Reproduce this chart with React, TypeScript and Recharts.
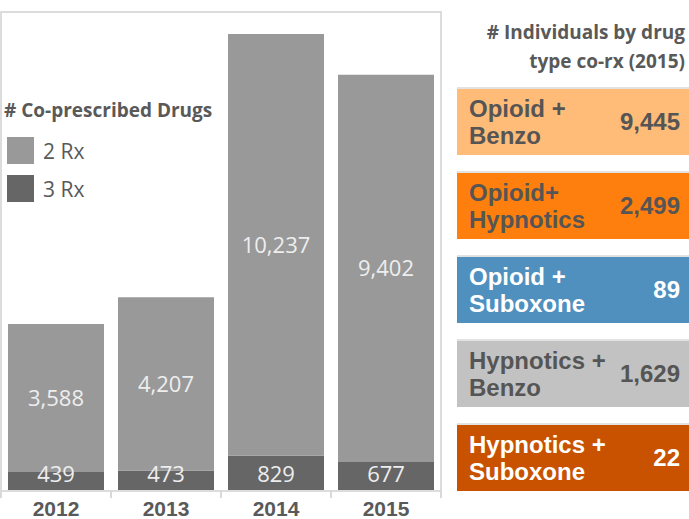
import { BarChart, Bar, XAxis, YAxis, LabelList } from 'recharts';

const years = ['2012', '2013', '2014', '2015'];
const rx2 = [3588, 4207, 10237, 9402];
const rx3 = [439, 473, 829, 677];

const comboLabels = [
  ['Opioid +', 'Benzo'],
  ['Opioid+', 'Hypnotics'],
  ['Opioid +', 'Suboxone'],
  ['Hypnotics +', 'Benzo'],
  ['Hypnotics +', 'Suboxone'],
];
const comboCounts = [9445, 2499, 89, 1629, 22];
const comboColors = ['#FFBB78', '#FF7F0E', '#4F90BF', '#C2C2C2', '#C85200'];
const comboText = ['#555555', '#555555', '#FFFFFF', '#555555', '#FFFFFF'];

const chartData = years.map((year, i) => ({ year, rx2: rx2[i], rx3: rx3[i] }));

const CHART_W = 442;
const PLOT_W = 440;
const half = PLOT_W / years.length / 2;

const fmt = (v: number) => v.toLocaleString('en-US');

function YearTick(props: any) {
  const { x, y, payload, index } = props;
  return (
    <g>
      <line x1={x - half} x2={x - half} y1={y} y2={y + 8} stroke="#d9d9d9" strokeWidth={2} />
      {index === years.length - 1 && (
        <line x1={x + half} x2={x + half} y1={y} y2={y + 8} stroke="#d9d9d9" strokeWidth={2} />
      )}
      <text
        x={x}
        y={y + 26}
        textAnchor="middle"
        fill="#595959"
        fontFamily="'Liberation Sans', Arial, sans-serif"
        fontWeight="bold"
        fontSize={21}
      >
        {payload.value}
      </text>
    </g>
  );
}

export default function App() {
  return (
    <div
      style={{
        position: 'absolute',
        left: 0,
        top: 0,
        width: 689,
        height: 519,
        background: '#fff',
        overflow: 'hidden',
      }}
    >
      <div
        style={{
          position: 'absolute',
          left: 0,
          top: 11,
          width: 438,
          height: 477,
          border: '2px solid #dcdcdc',
        }}
      />
      <div style={{ position: 'absolute', left: 0, top: 0 }}>
        <BarChart
          width={CHART_W}
          height={519}
          data={chartData}
          margin={{ top: 12, right: 1, left: 1, bottom: 0 }}
        >
          <XAxis
            dataKey="year"
            axisLine={false}
            tickLine={false}
            tickSize={0}
            tickMargin={0}
            height={29}
            tick={<YearTick />}
            interval={0}
          />
          <YAxis hide domain={[0, 11600]} />
          <Bar dataKey="rx3" stackId="a" fill="#666666" barSize={96} isAnimationActive={false}>
            <LabelList
              dataKey="rx3"
              position="insideBottom"
              offset={8}
              formatter={(v: any) => fmt(Number(v))}
              fill="#eeeeee"
              fontSize={22}
              fontFamily="'Open Sans', sans-serif"
            />
          </Bar>
          <Bar dataKey="rx2" stackId="a" fill="#999999" barSize={96} isAnimationActive={false}>
            <LabelList
              dataKey="rx2"
              position="center"
              formatter={(v: any) => fmt(Number(v))}
              fill="#eeeeee"
              fontSize={22}
              fontFamily="'Open Sans', sans-serif"
            />
          </Bar>
        </BarChart>
      </div>

      {/* legend */}
      <div
        style={{
          position: 'absolute',
          left: 4,
          top: 97,
          fontFamily: "'Open Sans', sans-serif",
          color: '#595959',
        }}
      >
        <div style={{ fontWeight: 700, fontSize: 19, lineHeight: '26px' }}># Co-prescribed Drugs</div>
        {[
          { name: '2 Rx', color: '#999999' },
          { name: '3 Rx', color: '#666666' },
        ].map((item, i) => (
          <div
            key={item.name}
            style={{
              display: 'flex',
              alignItems: 'center',
              height: 27,
              marginTop: i === 0 ? 14 : 11,
              marginLeft: 3,
            }}
          >
            <div style={{ width: 27, height: 27, background: item.color }} />
            <span style={{ marginLeft: 9, fontSize: 21 }}>{item.name}</span>
          </div>
        ))}
      </div>

      {/* right panel */}
      <div
        style={{
          position: 'absolute',
          right: 4,
          top: 18,
          textAlign: 'right',
          fontFamily: "'Open Sans', sans-serif",
          fontWeight: 700,
          fontSize: 19,
          lineHeight: '29px',
          color: '#595959',
        }}
      >
        <div># Individuals by drug</div>
        <div>type co-rx (2015)</div>
      </div>
      <div
        style={{
          position: 'absolute',
          left: 457,
          top: 89,
          width: 232,
          display: 'flex',
          flexDirection: 'column',
          gap: 18,
        }}
      >
        {comboLabels.map((lines, i) => (
          <div
            key={i}
            style={{
              height: 66,
              background: comboColors[i],
              boxShadow: '0 -2px 0 #e2e2e2',
              display: 'flex',
              alignItems: 'center',
              justifyContent: 'space-between',
              padding: '0 9px 0 12px',
              boxSizing: 'border-box',
              fontFamily: "'Liberation Sans', Arial, sans-serif",
              fontWeight: 700,
              fontSize: 24,
              color: comboText[i],
            }}
          >
            <div style={{ lineHeight: '27px' }}>
              {lines.map((l) => (
                <div key={l}>{l}</div>
              ))}
            </div>
            <div>{fmt(comboCounts[i])}</div>
          </div>
        ))}
      </div>
    </div>
  );
}
